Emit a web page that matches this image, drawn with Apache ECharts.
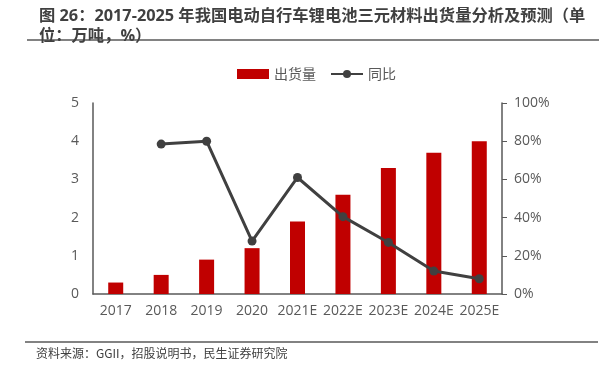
<!DOCTYPE html>
<html>
<head>
<meta charset="utf-8">
<script src="https://cdn.jsdelivr.net/npm/echarts@6/dist/echarts.min.js"></script>
<style>
  html, body { margin: 0; padding: 0; background: #fff; }
  #main { width: 611px; height: 367px; }
</style>
</head>
<body>
<div id="main"></div>
<script>
// 年份
var years = ['2017', '2018', '2019', '2020', '2021E', '2022E', '2023E', '2024E', '2025E'];
// 出货量（万吨）
var shipments = [0.3, 0.5, 0.9, 1.2, 1.9, 2.6, 3.3, 3.7, 4.0];
// 同比（%）
var yoy = [null, 78.5, 80, 27.7, 61, 40.5, 27, 12, 8];

var leftTicks = [0, 1, 2, 3, 4, 5];
var rightTicks = [0, 20, 40, 60, 80, 100];

var font = '"Open Sans", "Noto Sans CJK SC", sans-serif';
var cjk = '"Noto Sans CJK SC", sans-serif';
var chart = echarts.init(document.getElementById('main'));

var option = {
    backgroundColor: '#fff',
    animation: false,
    title: {
        text: '图 26：2017-2025 年我国电动自行车锂电池三元材料出货量分析及预测（单\n位：万吨，%）',
        left: 34,
        top: 1,
        textStyle: {
            fontFamily: font,
            fontSize: 16.3,
            fontWeight: 'bold',
            color: '#404040',
            lineHeight: 20
        }
    },
    legend: {
        top: 62,
        left: 232,
        itemWidth: 32,
        itemHeight: 10,
        itemGap: 14,
        textStyle: { fontFamily: cjk, fontSize: 14, color: '#595959' },
        data: [
            { name: '出货量', icon: 'rect' },
            { name: '同比' }
        ]
    },
    grid: { left: 93, right: 109, top: 103, bottom: 73 },
    xAxis: {
        type: 'category',
        data: years,
        axisLine: { lineStyle: { color: '#595959', width: 1.5 } },
        axisTick: { show: false },
        axisLabel: { fontFamily: font, fontSize: 14, color: '#595959', margin: 10, interval: 0 }
    },
    yAxis: [
        {
            type: 'value',
            min: leftTicks[0],
            max: leftTicks[leftTicks.length - 1],
            interval: 1,
            splitLine: { show: false },
            axisLine: { show: true, lineStyle: { color: '#595959', width: 1.5 } },
            axisTick: { show: false },
            axisLabel: { fontFamily: font, fontSize: 14, color: '#595959', margin: 14 }
        },
        {
            type: 'value',
            min: rightTicks[0],
            max: rightTicks[rightTicks.length - 1],
            interval: 20,
            splitLine: { show: false },
            axisLine: { show: true, lineStyle: { color: '#595959', width: 1.5 } },
            axisTick: { show: true, length: 5, lineStyle: { color: '#595959' } },
            axisLabel: { fontFamily: font, fontSize: 14, color: '#595959', margin: 12, formatter: '{value}%' }
        }
    ],
    series: [
        {
            name: '出货量',
            type: 'bar',
            data: shipments,
            barWidth: 15,
            itemStyle: { color: '#c00000' }
        },
        {
            name: '同比',
            type: 'line',
            yAxisIndex: 1,
            data: yoy,
            symbol: 'circle',
            symbolSize: 9,
            lineStyle: { color: '#404040', width: 3 },
            itemStyle: { color: '#404040' }
        }
    ],
    graphic: [
        {
            type: 'line',
            shape: { x1: 27, y1: 40, x2: 599, y2: 40 },
            style: { stroke: '#595959', lineWidth: 1.5 }
        },
        {
            type: 'line',
            shape: { x1: 25, y1: 342, x2: 598, y2: 342 },
            style: { stroke: '#595959', lineWidth: 1.5 }
        },
        {
            type: 'text',
            left: 36,
            top: 347,
            style: {
                text: '资料来源：GGII，招股说明书，民生证券研究院',
                font: '12px ' + cjk,
                fill: '#404040'
            }
        }
    ]
};

chart.setOption(option);
</script>
</body>
</html>
